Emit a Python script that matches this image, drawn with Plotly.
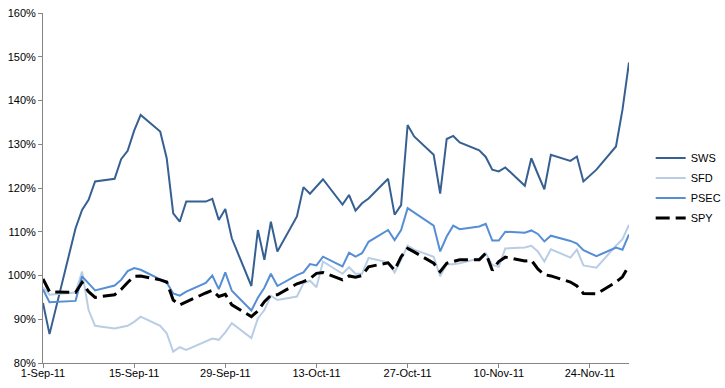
import plotly.graph_objects as go

dates = [
    "2011-09-01", "2011-09-02", "2011-09-06", "2011-09-07", "2011-09-08", "2011-09-09",
    "2011-09-12", "2011-09-13", "2011-09-14", "2011-09-15", "2011-09-16",
    "2011-09-19", "2011-09-20", "2011-09-21", "2011-09-22", "2011-09-23",
    "2011-09-26", "2011-09-27", "2011-09-28", "2011-09-29", "2011-09-30",
    "2011-10-03", "2011-10-04", "2011-10-05", "2011-10-06", "2011-10-07",
    "2011-10-10", "2011-10-11", "2011-10-12", "2011-10-13", "2011-10-14",
    "2011-10-17", "2011-10-18", "2011-10-19", "2011-10-20", "2011-10-21",
    "2011-10-24", "2011-10-25", "2011-10-26", "2011-10-27", "2011-10-28",
    "2011-10-31", "2011-11-01", "2011-11-02", "2011-11-03", "2011-11-04",
    "2011-11-07", "2011-11-08", "2011-11-09", "2011-11-10", "2011-11-11",
    "2011-11-14", "2011-11-15", "2011-11-16", "2011-11-17", "2011-11-18",
    "2011-11-21", "2011-11-22", "2011-11-23", "2011-11-25",
    "2011-11-28", "2011-11-29", "2011-11-30",
]

sws = [
    93.7, 86.6, 110.8, 115.0, 117.3, 121.5,
    122.1, 126.6, 128.5, 133.1, 136.7,
    132.9, 126.8, 114.2, 112.3, 116.9,
    116.9, 117.5, 112.7, 115.2, 108.5,
    97.6, 110.4, 103.6, 112.3, 105.5,
    113.5, 120.2, 118.7, 120.3, 122.0,
    116.2, 118.4, 114.8, 116.5, 117.6,
    122.1, 113.9, 116.1, 134.4, 131.8,
    127.6, 118.7, 131.2, 131.9, 130.4,
    128.6, 127.1, 124.2, 123.8, 124.7,
    120.5, 126.8, 123.2, 119.7, 127.6,
    126.2, 127.2, 121.5, 124.2,
    129.5, 137.9, 148.7,
]

sfd = [
    97.3, 95.6, 96.1, 100.9, 92.1, 88.5,
    87.9, 88.2, 88.5, 89.4, 90.6,
    88.5, 86.8, 82.6, 83.6, 83.0,
    84.9, 85.6, 85.3, 87.0, 89.1,
    85.7, 90.2, 92.1, 95.4, 94.4,
    95.2, 98.2, 98.8, 97.3, 103.2,
    100.4, 101.9, 100.4, 100.4, 104.0,
    103.0, 100.7, 103.6, 106.8, 105.9,
    104.3, 99.8, 102.6, 102.6, 102.8,
    103.9, 105.1, 102.4, 102.0, 106.2,
    106.4, 106.8, 105.5, 103.2, 106.0,
    104.1, 105.9, 102.3, 101.8,
    106.8, 108.3, 111.6,
]

psec = [
    96.8, 93.9, 94.2, 99.8, 98.2, 96.6,
    97.7, 99.0, 101.0, 101.7, 101.3,
    99.0, 98.4, 95.9, 95.4, 96.3,
    98.3, 100.0, 96.9, 100.7, 96.5,
    92.0, 94.9, 97.2, 100.4, 97.6,
    100.1, 100.7, 102.6, 102.3, 104.3,
    102.1, 105.2, 104.3, 105.1, 107.7,
    110.4, 108.1, 110.4, 115.4, 114.4,
    111.4, 105.5, 108.9, 111.4, 110.6,
    111.2, 111.8, 108.0, 108.0, 110.0,
    109.8, 110.3, 109.5, 107.8, 109.1,
    107.9, 107.3, 105.8, 104.4,
    106.4, 105.9, 109.4,
]

spy = [
    99.2, 96.3, 96.1, 98.4, 96.3, 95.0,
    95.6, 96.8, 98.4, 99.8, 99.9,
    99.0, 98.5, 94.4, 93.3, 94.0,
    96.0, 96.6, 95.2, 95.7, 93.3,
    90.6, 91.9, 94.0, 95.5, 95.6,
    98.1, 98.6, 99.3, 100.5, 100.7,
    99.0, 99.9, 99.6, 100.0, 102.0,
    102.9, 101.2, 104.3, 106.2, 105.4,
    102.8, 100.9, 102.8, 103.2, 103.6,
    103.6, 105.1, 101.2, 103.2, 104.2,
    103.3, 103.5, 101.5, 100.2, 99.9,
    98.5, 97.6, 95.9, 95.8,
    98.5, 99.7, 102.3,
]

series_names = ["SWS", "SFD", "PSEC", "SPY"]
series_values = [sws, sfd, psec, spy]
series_colors = ["#376092", "#B9CDE5", "#558ED5", "#000000"]
series_widths = [2, 2, 2, 3]
series_dash = ["solid", "solid", "solid", "14px,6px"]

fig = go.Figure()
for name, vals, col, w, dsh in zip(series_names, series_values, series_colors, series_widths, series_dash):
    fig.add_trace(go.Scatter(
        x=dates, y=vals, name=name, mode="lines",
        line=dict(color=col, width=w, dash=dsh),
        legendgroup=name,
    ))

axis_col = "#868686"
fig.update_layout(
    width=725, height=388,
    margin=dict(l=43, r=96, t=13, b=25, autoexpand=False),
    paper_bgcolor="white", plot_bgcolor="white",
    font=dict(family="Liberation Sans, Arial, sans-serif", size=11, color="#000000"),
    showlegend=True,
    legend=dict(
        x=1.037, xanchor="left", y=0.5, yanchor="middle",
        font=dict(size=11, color="#000000"),
        tracegroupgap=1,
        bgcolor="rgba(0,0,0,0)",
    ),
    xaxis=dict(
        type="date", automargin=False,
        range=["2011-09-01", "2011-11-30"],
        tick0="2011-09-01", dtick=14 * 86400000,
        tickformat="%-d-%b-%y",
        showgrid=False, zeroline=False,
        showline=True, linecolor=axis_col, linewidth=1,
        ticks="outside", ticklen=4, tickcolor=axis_col,
        ticklabelstandoff=-4,
    ),
    yaxis=dict(
        automargin=False,
        range=[80, 160], dtick=10, ticksuffix="%",
        showgrid=False, zeroline=False,
        showline=True, linecolor=axis_col, linewidth=1,
        ticks="outside", ticklen=4, tickcolor=axis_col,
    ),
)

fig.write_html(
    "out.html",
    config={"displayModeBar": False},
    post_script="document.body.style.margin='0';",
)
